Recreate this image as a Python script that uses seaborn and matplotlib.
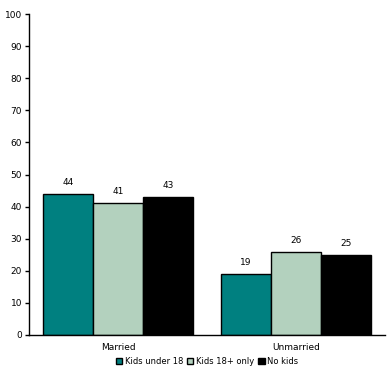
import matplotlib
matplotlib.use("Agg")
import matplotlib.pyplot as plt
import seaborn as sns
import pandas as pd

categories = ["Married", "Unmarried"]
series = ["Kids under 18", "Kids 18+ only", "No kids"]
kids_under_18 = [44, 19]
kids_18_only = [41, 26]
no_kids = [43, 25]
colors = ["#008080", "#b3d1be", "#000000"]

rows = []
for s, vals in zip(series, [kids_under_18, kids_18_only, no_kids]):
    for c, v in zip(categories, vals):
        rows.append({"status": c, "group": s, "value": v})
df = pd.DataFrame(rows)

sns.set_style("white")
plt.rcParams["font.family"] = ["DejaVu Sans"]
plt.rcParams["text.color"] = "black"
plt.rcParams["xtick.color"] = "black"
plt.rcParams["ytick.color"] = "black"
fig = plt.figure(figsize=(3.9, 3.76), dpi=100)
ax = fig.add_axes([29/390, 1-335/376, 356/390, 321/376])

sns.barplot(data=df, x="status", y="value", hue="group", palette=colors,
            edgecolor="black", linewidth=1, width=0.84, ax=ax, saturation=1,
            hue_order=series, order=categories)

for cont in ax.containers:
    ax.bar_label(cont, fmt="%d", padding=5, fontsize=6.5, color="black")

ax.set_ylim(0, 100)
ax.set_yticks(range(0, 101, 10))
ax.set_xlim(-0.5, 1.5)
ax.set_xlabel("")
ax.set_ylabel("")
ax.tick_params(axis="y", direction="out", length=3, width=1, labelsize=6.5, pad=2,
               left=True, colors="black")
ax.tick_params(axis="x", length=0, labelsize=6.5, pad=6, colors="black")
for s in ["top", "right"]:
    ax.spines[s].set_visible(False)
for s in ["left", "bottom"]:
    ax.spines[s].set_color("black")
    ax.spines[s].set_linewidth(1)

leg = ax.legend(loc="upper center", bbox_to_anchor=(0.5, -0.058), ncol=3, frameon=False,
                fontsize=6, handlelength=0.75, handleheight=0.75, handletextpad=0.3,
                columnspacing=0.5, borderaxespad=0, labelcolor="black")

fig.savefig("out.png", dpi=100)
